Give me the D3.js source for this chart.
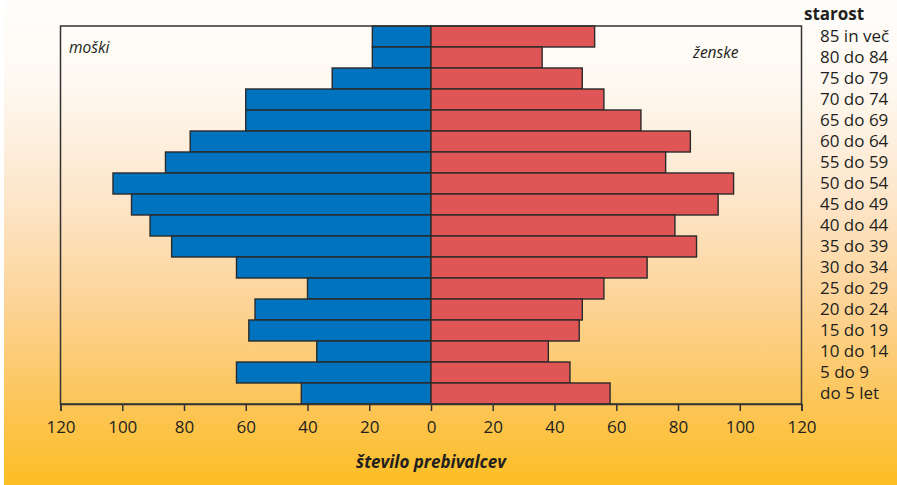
<!DOCTYPE html>
<html>
<head>
<meta charset="utf-8">
<script src="https://cdn.jsdelivr.net/npm/d3@7"></script>
<style>
  html, body { margin: 0; padding: 0; background: #ffffff; }
  svg { display: block; }
  text { font-family: "Open Sans", "DejaVu Sans", sans-serif; fill: #231f20; }
</style>
</head>
<body>
<svg id="chart" width="897" height="485"></svg>
<script>
// Age groups, top to bottom
const ageGroups = ["85 in več", "80 do 84", "75 do 79", "70 do 74", "65 do 69", "60 do 64",
  "55 do 59", "50 do 54", "45 do 49", "40 do 44", "35 do 39", "30 do 34", "25 do 29",
  "20 do 24", "15 do 19", "10 do 14", "5 do 9", "do 5 let"];
// Number of residents per age group
const men   = [19, 19, 32, 60, 60, 78, 86, 103, 97, 91, 84, 63, 40, 57, 59, 37, 63, 42];
const women = [53, 36, 49, 56, 68, 84, 76, 98, 93, 79, 86, 70, 56, 49, 48, 38, 45, 58];
// Axis ticks (absolute values on both sides)
const tickValues = [-120, -100, -80, -60, -40, -20, 0, 20, 40, 60, 80, 100, 120];

const svg = d3.select("#chart");
const W = 897, H = 485;
const plot = { left: 60.5, right: 801.5, top: 26, bottom: 404 };

// Background gradient
const defs = svg.append("defs");
const grad = defs.append("linearGradient").attr("id", "bg")
  .attr("x1", 0).attr("y1", 0).attr("x2", 0).attr("y2", 1);
[[0, "#fffefc"], [0.18, "#fef8f0"], [0.42, "#fde5c8"], [0.62, "#fdd498"],
 [0.82, "#fcc65c"], [1, "#fcbe24"]].forEach(([o, c]) =>
  grad.append("stop").attr("offset", o).attr("stop-color", c));
svg.append("rect").attr("x", 4).attr("y", 0).attr("width", W - 4).attr("height", H)
  .attr("fill", "url(#bg)");

const x = d3.scaleLinear().domain([-120, 120]).range([plot.left, plot.right]);
const y = d3.scaleBand().domain(ageGroups).range([plot.top, plot.bottom]).padding(0);

// Bars
const rows = ageGroups.map((g, i) => ({ g, m: men[i], w: women[i] }));
const barStroke = "#2a2a2a";
svg.append("g").selectAll("rect").data(rows).join("rect")
  .attr("x", d => x(-d.m)).attr("y", d => y(d.g))
  .attr("width", d => x(0) - x(-d.m)).attr("height", y.bandwidth())
  .attr("fill", "#0073bf").attr("stroke", barStroke).attr("stroke-width", 1.4);
svg.append("g").selectAll("rect").data(rows).join("rect")
  .attr("x", x(0)).attr("y", d => y(d.g))
  .attr("width", d => x(d.w) - x(0)).attr("height", y.bandwidth())
  .attr("fill", "#e05656").attr("stroke", barStroke).attr("stroke-width", 1.4);

// Frame
svg.append("rect").attr("x", plot.left).attr("y", plot.top)
  .attr("width", plot.right - plot.left).attr("height", plot.bottom - plot.top)
  .attr("fill", "none").attr("stroke", "#333").attr("stroke-width", 1.5);

// Bottom axis
const xAxis = d3.axisBottom(x).tickValues(tickValues)
  .tickFormat(d => Math.abs(d)).tickSize(7).tickPadding(10);
const ax = svg.append("g").attr("transform", `translate(0,${plot.bottom})`).call(xAxis);
ax.select(".domain").attr("stroke", "#333").attr("stroke-width", 1.5);
ax.selectAll(".tick line").attr("stroke", "#333").attr("stroke-width", 1.5);
ax.selectAll(".tick text").attr("font-size", 17).attr("fill", "#231f20")
  .attr("font-family", "'Open Sans', sans-serif");

// Age labels
svg.append("g").selectAll("text").data(ageGroups).join("text")
  .attr("x", 820).attr("y", d => y(d) + y.bandwidth() / 2)
  .attr("dy", "0.35em").attr("font-size", 17).text(d => d);
svg.append("text").attr("x", 804).attr("y", 20)
  .attr("font-size", 17).attr("font-weight", "bold").text("starost");

// Side labels
svg.append("text").attr("x", 69).attr("y", 53).attr("font-size", 15.5)
  .attr("font-style", "italic").text("moški");
svg.append("text").attr("x", 693).attr("y", 58).attr("font-size", 15.5)
  .attr("font-style", "italic").text("ženske");

// Axis title
svg.append("text").attr("x", x(0)).attr("y", 468).attr("text-anchor", "middle")
  .attr("font-size", 17).attr("font-weight", "bold").attr("font-style", "italic")
  .text("število prebivalcev");
</script>
</body>
</html>
